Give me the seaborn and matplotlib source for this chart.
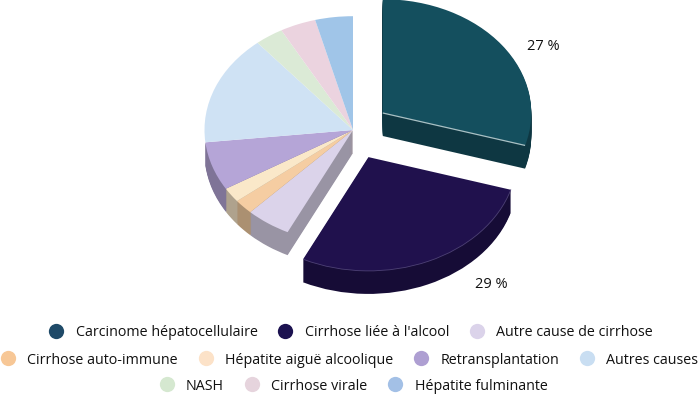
import math
import matplotlib
matplotlib.use("Agg")
import matplotlib.pyplot as plt
from matplotlib.colors import to_rgb
from matplotlib.lines import Line2D
from matplotlib.patches import Arc
import seaborn as sns

causes = ["Carcinome hépatocellulaire", "Cirrhose liée à l'alcool", "Autre cause de cirrhose",
          "Cirrhose auto-immune", "Hépatite aiguë alcoolique", "Retransplantation", "Autres causes",
          "NASH", "Cirrhose virale", "Hépatite fulminante"]
# slice sizes as drawn in the picture (%)
shares = [29.6, 27.6, 4.9, 2.1, 2.1, 6.9, 15.6, 3.1, 3.9, 4.1]
explode = [0.25, 0.26, 0, 0, 0, 0, 0, 0, 0, 0]
face_colors = ["#144f5e", "#20114d", "#dbd3ea", "#f5cda2", "#fae8c9",
               "#b5a5d7", "#cfe2f4", "#dbead6", "#ebd3df", "#a0c5e8"]
legend_colors = ["#1f4a68", "#1c1250", "#dbd3ea", "#f7c796", "#fce2c8",
                 "#ae9fd2", "#c9def2", "#d5e8d0", "#e6d4dd", "#a3c0e6"]
pct_labels = ["27 %", "29 %"]

sns.set_theme(style="white")
plt.rcParams["font.family"] = ["Open Sans", "DejaVu Sans"]

W, H = 700, 395
rx, ry = 148.5, 113.8  # pixels per data unit
cx, cy = 353, 130
depth = 23

fig = plt.figure(figsize=(W / 100, H / 100), dpi=100)
ax = fig.add_axes([0, 0, 1, 1])

def shade(color, f=0.7):
    return tuple(c * f for c in to_rgb(color))

# back slices show no wall
wall_colors = [shade(c) for c in face_colors[:6]] + ["none"] * 4

# side wall: pie stacked downwards, top face last
for d in range(depth, 0, -1):
    ax.pie(shares, explode=explode, colors=wall_colors, startangle=90, counterclock=False,
           center=(0, -d / ry), radius=1, wedgeprops=dict(linewidth=0.3, edgecolor="none"))
ax.pie(shares, explode=explode, colors=face_colors, startangle=90, counterclock=False,
       center=(0, 0), radius=1, wedgeprops=dict(linewidth=0))

# light rim along the top edge of the two pulled out slices
end1 = 90 - shares[0] * 3.6
mid1 = 90 - shares[0] * 1.8
x1, y1 = explode[0] * math.cos(math.radians(mid1)), explode[0] * math.sin(math.radians(mid1))
ax.plot([x1, x1 + math.cos(math.radians(end1))], [y1, y1 + math.sin(math.radians(end1))],
        color="#a9c0c4", lw=0.9, solid_capstyle="butt")
end2 = end1 - shares[1] * 3.6
mid2 = end1 - shares[1] * 1.8
x2, y2 = explode[1] * math.cos(math.radians(mid2)), explode[1] * math.sin(math.radians(mid2))
ax.add_patch(Arc((x2, y2), 2, 2, theta1=end2, theta2=end1, color="#4d4175", lw=0.6))

ax.set_aspect("auto")
ax.set_xlim(-cx / rx, (W - cx) / rx)
ax.set_ylim((cy - H) / ry, cy / ry)
ax.axis("off")

fig.text(543 / W, 1 - 46 / H, pct_labels[0], ha="center", va="center", fontsize=10.5, color="#111111")
fig.text(491 / W, 1 - 284 / H, pct_labels[1], ha="center", va="center", fontsize=10.5, color="#111111")

rows = [(range(0, 3), 347.5, 333), (range(3, 7), 346, 360), (range(7, 10), 350, 386)]
for idx, x, y in rows:
    handles = [Line2D([], [], linestyle="none", marker="o", markersize=11,
                      markerfacecolor=legend_colors[i], markeredgecolor="none") for i in idx]
    leg = fig.legend(handles, [causes[i] for i in idx], ncols=len(handles), loc="center",
                     bbox_to_anchor=(x / W, 1 - y / H), frameon=False, fontsize=10.3,
                     handletextpad=0.35, columnspacing=0.95, borderpad=0, borderaxespad=0,
                     labelcolor="#111111")

fig.savefig("out.png", dpi=100)
plt.close(fig)
